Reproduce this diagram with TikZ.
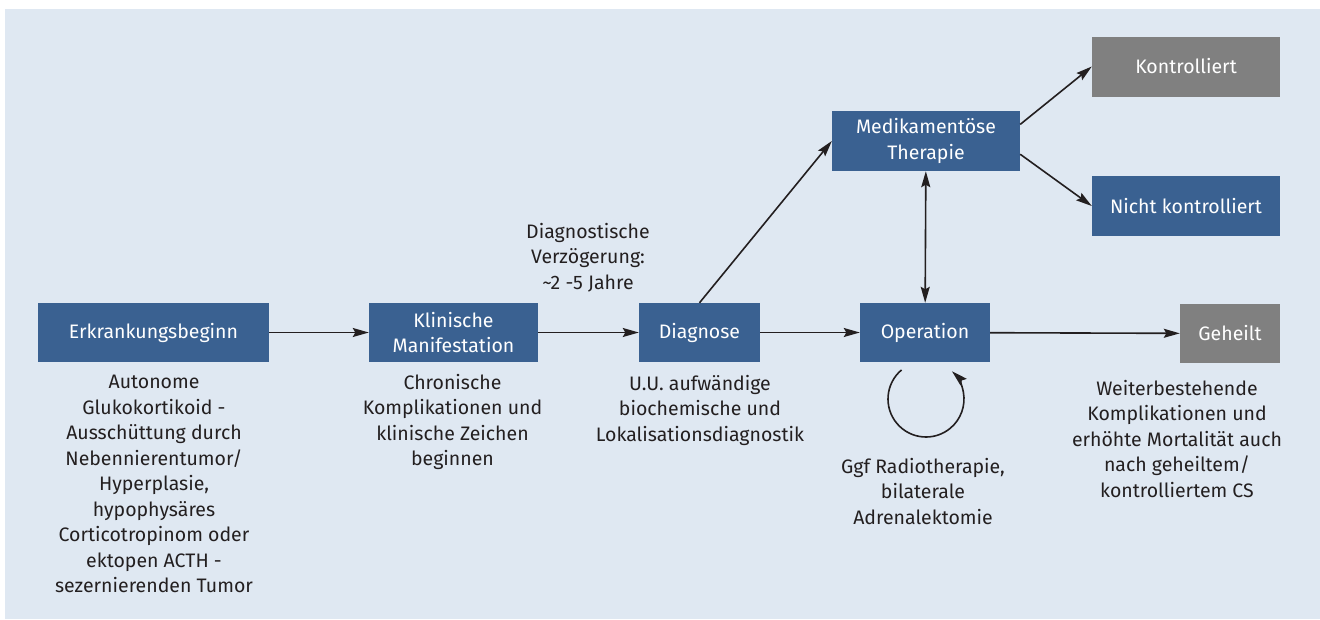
\documentclass[tikz,border=0pt]{standalone}
\usepackage{fontspec}
\setmainfont{Fira Sans}
\usetikzlibrary{arrows.meta}
\definecolor{boxblue}{HTML}{3A6191}
\definecolor{boxgray}{HTML}{808080}
\definecolor{panel}{HTML}{DFE8F2}
\definecolor{ink}{HTML}{231F20}
\tikzstyle{stage}=[fill=boxblue, text=white, inner sep=0pt, align=center, minimum height=59pt, font=\fontsize{19.5}{25.5}\selectfont]
\tikzstyle{outcome}=[stage, fill=boxgray]
\tikzstyle{note}=[text=ink, inner sep=0pt, align=center, anchor=north, font=\fontsize{19.5}{25.5}\selectfont]
\tikzstyle{flow}=[->, >={Stealth[length=16pt, width=9pt, inset=2.5pt]}, line width=1.6pt, ink]

\begin{document}
\begin{tikzpicture}[x=1pt, y=-1pt]
	\useasboundingbox (0,0) rectangle (1320,619);
	\fill[panel] (5,9) rectangle (1320,619);

	\node[stage, minimum width=231pt] (erk) at (153.5,332.5) {Erkrankungsbeginn};
	\node[stage, minimum width=169pt] (klin) at (453.5,332.5) {Klinische\\Manifestation};
	\node[stage, minimum width=121pt] (diag) at (699.5,332.5) {Diagnose};
	\node[stage, minimum width=130pt] (op) at (925,332.5) {Operation};
	\node[outcome, minimum width=100pt] (heil) at (1230,333.5) {Geheilt};
	\node[stage, minimum width=188pt, minimum height=60pt] (med) at (926,141) {Medikamentöse\\Therapie};
	\node[outcome, minimum width=188pt, minimum height=60pt] (kon) at (1186,66.5) {Kontrolliert};
	\node[stage, minimum width=188pt, minimum height=60pt] (nkon) at (1186,206) {Nicht kontrolliert};

	\node[note] (erknote) at (154,375) {Autonome\\Glukokortikoid -\\Ausschüttung durch\\Nebennierentumor/\\Hyperplasie,\\hypophysäres\\Corticotropinom oder\\ektopen ACTH -\\sezernierenden Tumor};
	\node[note] (klinnote) at (452.5,374) {Chronische\\Komplikationen und\\klinische Zeichen\\beginnen};
	\node[note] (diagnote) at (700,375) {U.U. aufwändige\\biochemische und\\Lokalisationsdiagnostik};
	\node[note] (opnote) at (923,458) {Ggf Radiotherapie,\\bilaterale\\Adrenalektomie};
	\node[note] (heilnote) at (1177,380) {Weiterbestehende\\Komplikationen und\\erhöhte Mortalität auch\\nach geheiltem/\\kontrolliertem CS};
	\node[note] (delay) at (588,223) {Diagnostische\\Verzögerung:\\\textasciitilde 2 -5 Jahre};

	\coordinate (loopc) at (926,399);

	\draw[flow] (erk) -- (klin);
	\draw[flow] (klin) -- (diag);
	\draw[flow] (diag) -- (op);
	\draw[flow] (op) -- (heil);
	\draw[flow] (diag.north) -- (med.west);
	\draw[flow] (med.10) -- (kon.west);
	\draw[flow] (med.-8) -- (nkon.west);
	\draw[flow, <->] (med) -- (op);
	\draw[flow] ([shift={(130:38pt)}]loopc) arc[start angle=130, end angle=407, radius=38pt];
\end{tikzpicture}
\end{document}
